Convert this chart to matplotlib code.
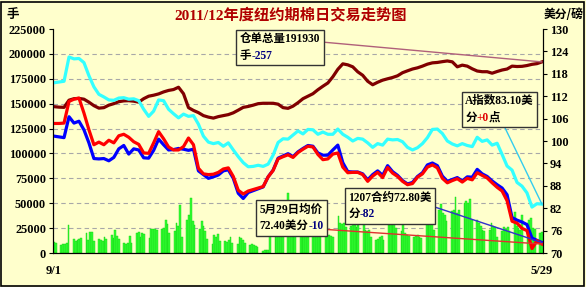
import numpy as np
import pandas as pd
import matplotlib
matplotlib.use('Agg')
import matplotlib.pyplot as plt
from matplotlib.offsetbox import TextArea, HPacker, VPacker, AnnotationBbox
from matplotlib.patches import Rectangle

# ---------------- data ----------------
start_date, end_date = '2011-09-01', '2012-05-29'
x_labels = ['9/1', '5/29']

# A index (US cents/lb), sampled evenly across the period
a_index = [115.6, 115.8, 116.0, 122.5, 122.0, 122.1, 121.0, 117.5, 114.5, 112.5,
           111.8, 111.0, 110.9, 111.5, 111.6, 111.2, 111.3, 110.8, 108.5, 106.6,
           108.0, 111.0, 110.8, 108.5, 107.3, 106.2, 107.2, 106.6, 106.8, 104.5,
           101.3, 99.7, 99.3, 99.6, 98.6, 99.5, 97.6, 95.8, 94.2, 93.1,
           93.2, 93.5, 93.2, 93.8, 96.2, 99.6, 100.6, 100.5, 101.6, 102.7,
           101.9, 103.1, 103.0, 101.8, 102.4, 101.8, 101.8, 103.2, 101.8, 101.0,
           100.0, 100.7, 100.5, 99.5, 98.3, 99.3, 98.9, 100.5, 100.3, 100.4,
           99.8, 98.3, 97.6, 98.2, 99.3, 100.9, 103.1, 103.2, 102.0, 100.0,
           99.2, 98.7, 99.3, 98.8, 98.5, 101.0, 99.9, 100.3, 98.9, 99.4,
           96.4, 93.3, 92.2, 88.9, 87.9, 86.1, 82.3, 83.2, 83.1]

# warehouse receipts (thousand lots)
stocks_k = [147.0, 146.5, 146.3, 153.5, 155.0, 155.3, 154.5, 151.5, 148.0, 145.5,
            146.0, 148.5, 150.0, 152.0, 152.8, 153.0, 152.5, 151.5, 155.0, 157.5,
            158.5, 159.8, 161.8, 163.3, 164.2, 166.5, 160.0, 146.0, 143.2, 141.0,
            138.0, 136.5, 135.5, 137.0, 138.0, 139.0, 140.8, 143.5, 146.3, 147.2,
            148.5, 150.0, 150.4, 150.4, 150.4, 149.5, 146.0, 145.3, 147.5, 151.0,
            155.0, 157.5, 160.0, 164.0, 167.5, 170.8, 177.0, 184.5, 190.0, 189.0,
            187.0, 182.0, 178.5, 172.5, 169.0, 171.5, 173.6, 175.0, 176.3, 178.0,
            181.1, 183.0, 184.8, 186.0, 187.7, 189.7, 191.0, 191.4, 192.2, 192.9,
            192.0, 187.0, 188.7, 187.7, 185.0, 182.8, 182.1, 182.1, 180.6, 182.3,
            183.8, 184.8, 187.7, 187.3, 187.5, 188.3, 189.5, 190.2, 191.93]

# daily average price (red)
avg_price = [104.7, 104.7, 104.8, 110.6, 111.2, 111.5, 107.5, 103.0, 99.0, 99.7,
             99.0, 100.2, 99.5, 101.4, 101.8, 101.0, 99.8, 99.1, 96.8, 96.7,
             99.5, 102.5, 100.6, 98.4, 97.6, 97.6, 98.5, 100.8, 99.0, 92.7,
             91.2, 91.0, 91.1, 91.6, 92.5, 92.8, 90.5, 86.8, 85.8, 86.6,
             87.0, 87.4, 87.8, 90.4, 92.1, 95.2, 95.8, 96.3, 95.6, 96.9,
             97.8, 98.6, 98.4, 96.4, 95.0, 95.2, 96.5, 96.8, 93.0, 91.5,
             91.6, 91.6, 91.0, 89.2, 90.6, 91.6, 90.2, 92.9, 91.4, 90.5,
             89.2, 88.3, 88.6, 90.3, 91.2, 93.0, 93.6, 92.8, 90.0, 88.8,
             89.4, 89.9, 89.0, 90.0, 89.6, 91.5, 90.8, 90.1, 88.8, 87.6,
             86.6, 84.0, 78.5, 78.0, 76.6, 76.0, 71.2, 73.3, 72.4]

# July 2012 contract (blue)
contract_1207 = [101.3, 101.1, 100.9, 106.5, 104.8, 105.3, 103.0, 99.5, 95.3, 95.2,
                 95.3, 94.7, 95.6, 97.9, 98.8, 96.5, 97.9, 97.6, 95.5, 95.4,
                 97.5, 100.5, 99.0, 97.6, 97.7, 98.0, 97.8, 97.5, 97.8, 92.0,
                 91.0, 90.0, 90.4, 90.9, 92.0, 92.3, 90.0, 86.0, 84.6, 86.2,
                 86.7, 87.2, 87.7, 90.4, 92.2, 95.4, 96.0, 96.6, 95.8, 97.1,
                 98.0, 98.8, 98.6, 96.8, 96.2, 96.2, 97.6, 98.9, 94.2, 91.8,
                 91.7, 91.7, 91.2, 89.6, 91.0, 92.0, 90.8, 93.4, 91.8, 90.8,
                 89.4, 88.5, 88.9, 90.5, 91.5, 93.6, 94.1, 93.4, 90.6, 89.2,
                 89.7, 90.2, 89.3, 90.4, 90.3, 92.4, 91.2, 90.5, 89.3, 88.3,
                 87.4, 85.6, 79.5, 78.8, 78.3, 77.6, 74.0, 73.4, 72.8]

# daily volume (thousand lots), one per trading day
volume_k = [11, 10,
            8, 9, 9, 10, 28,   14, 12, 13, 14, 15,   20, 13, 21, 21, 12,
            14, 13, 12, 16, 14,   18, 15, 23, 17, 14,   10, 9, 10, 17, 10,
            20, 21, 16, 20, 19,   15, 24, 24, 24, 23,   24, 25, 33, 29, 20,
            22, 30, 27, 48, 16,   33, 38, 55, 32, 28,   24, 32, 27, 22, 14,
            9, 18, 16, 19, 12,    12, 11, 13, 16, 10,   9, 16, 15, 13, 10,
            8, 9, 8, 7, 6,        2, 3, 3, 3, 20,       16, 19, 18, 18, 17,
            60, 22, 25, 24, 20,   17, 18, 18, 30, 16,   20, 19, 20, 19, 18,
            17, 18, 18, 17, 16,   37, 30, 29, 30, 26,   27, 30, 28, 26, 28,
            30, 23, 22, 23, 16,   13, 14, 16, 17, 13,   28, 32, 31, 30, 25,
            22, 30, 20, 18, 17,   16, 17, 18, 16, 15,   30, 38, 33, 30, 23,
            43, 49, 40, 38, 32,   42, 43, 56, 40, 43,   50, 52, 50, 54, 33,
            33, 30, 27, 23, 22,   23, 30, 27, 26, 16,   22, 26, 24, 26, 22,
            41, 27, 25, 23, 38,   30, 33, 35, 25, 24,
            20, 21]

# ---------------- figure ----------------
BG = '#FFFFCC'
SER = ['Liberation Serif', 'Noto Sans CJK SC', 'DejaVu Sans']
CJK = ['Noto Sans CJK SC', 'DejaVu Sans']
plt.rcParams['font.family'] = SER
plt.rcParams['font.weight'] = 'bold'

W, H = 586, 287
fig = plt.figure(figsize=(W / 100, H / 100), dpi=100, facecolor=BG)
ax = fig.add_axes([53 / W, 34 / H, 490 / W, 224 / H])
ax.set_facecolor(BG)
ax2 = ax.twinx()

t0 = pd.Timestamp(start_date)
n_days = (pd.Timestamp(end_date) - t0).days
trade_days = pd.bdate_range(start_date, end_date)
bar_x = np.array([(d - t0).days for d in trade_days])
line_x = np.linspace(0, n_days, len(a_index))

ax.bar(bar_x, np.array(volume_k) * 1000, width=1.05, color='#33FF33',
       edgecolor='#10D010', linewidth=0.3, zorder=2)
for v in range(25000, 225000, 25000):
    ax.axhline(v, color='#A8A8A8', lw=0.8, ls=(0, (4, 3)), zorder=1)
ax.plot(line_x, np.array(stocks_k) * 1000, color='#800000', lw=2.3, zorder=3,
        solid_joinstyle='round')

ax2.plot(line_x, a_index, color='#33FFFF', lw=2.3, solid_joinstyle='round')
ax2.plot(line_x, contract_1207, color='#0000FF', lw=2.3, solid_joinstyle='round')
ax2.plot(line_x, avg_price, color='#FF0000', lw=2.3, solid_joinstyle='round')

ax.set_xlim(-0.6, n_days + 0.6)
ax.set_ylim(0, 225000)
ax2.set_ylim(70, 130)
ax.set_yticks(range(0, 225001, 25000))
ax.set_yticklabels([str(v) for v in range(0, 225001, 25000)])
ax2.set_yticks(range(70, 131, 6))
ax.set_xticks([0, n_days])
ax.set_xticklabels(x_labels)
ax.tick_params(axis='x', length=0, pad=9, labelsize=9)
ax.tick_params(axis='y', length=3, width=0.8, pad=2, labelsize=8.8)
ax2.tick_params(axis='y', length=3, width=0.8, pad=2, labelsize=8.8)
for a in (ax, ax2):
    a.spines['top'].set_visible(False)
    for s in ('left', 'right', 'bottom'):
        a.spines[s].set_color('black')
        a.spines[s].set_linewidth(0.8)
    for lab in a.get_xticklabels() + a.get_yticklabels():
        lab.set_fontweight('bold')

# titles / unit labels
fig.text(291 / W, 1 - 15 / H, '2011/12年度纽约期棉日交易走势图', ha='center', va='center',
         fontsize=11, fontweight='bold', color='#B00000', family=SER)
fig.text(13 / W, 1 - 14 / H, '手', ha='center', va='center', fontsize=9,
         fontweight='bold', family=CJK)
fig.text(564 / W, 1 - 14 / H, '美分/磅', ha='center', va='center', fontsize=8.5,
         fontweight='bold', family=CJK)

# outer border
fig.patches.append(Rectangle((1 / W, 1 / H), 1 - 3 / W, 1 - 3 / H, transform=fig.transFigure,
                             fill=False, ec='black', lw=1.2))

FS = 8.3


def piece(s, color='black'):
    return TextArea(s, textprops=dict(color=color, fontsize=FS, fontweight='bold', family=SER))


def add_box(lines, xy, xycoords, center_px, leader_color, relpos):
    rows = [HPacker(children=[piece(s, c) for s, c in line], pad=0, sep=0) for line in lines]
    box = VPacker(children=rows, pad=0, sep=3, align='left')
    ab = AnnotationBbox(box, xy, xycoords=xycoords, xybox=center_px, boxcoords='figure pixels',
                        box_alignment=(0.5, 0.5), frameon=True, pad=0.25,
                        bboxprops=dict(boxstyle='square,pad=0.25', fc=BG, ec='#333333', lw=1),
                        arrowprops=dict(arrowstyle='-', color=leader_color, lw=1,
                                        relpos=relpos, shrinkA=0, shrinkB=0),
                        annotation_clip=False, zorder=6)
    ax2.add_artist(ab)


add_box([[('仓单总量191930', 'black')], [('手', 'black'), ('-257', '#000080')]],
        (line_x[-1], stocks_k[-1] * 1000), ax.transData, (280, 287 - 47.5), '#B0607A', (1, 0.7))
add_box([[('A指数83.10美', 'black')], [('分', 'black'), ('+0', '#E00000'), ('点', 'black')]],
        (line_x[-1], a_index[-1]), 'data', (499.5, 287 - 109.5), '#33CCEE', (0.55, 0))
add_box([[('1207合约72.80美', 'black')], [('分', 'black'), ('-82', '#000080')]],
        (line_x[-1], contract_1207[-1]), 'data', (390, 287 - 206), '#3030CC', (1, 0.5))
add_box([[('5月29日均价', 'black')], [('72.40美分', 'black'), ('-10', '#000080')]],
        (line_x[-1], avg_price[-1]), 'data', (291.5, 287 - 218), '#E03030', (1, 0.1))

fig.savefig('out.png', dpi=100, facecolor=BG)
